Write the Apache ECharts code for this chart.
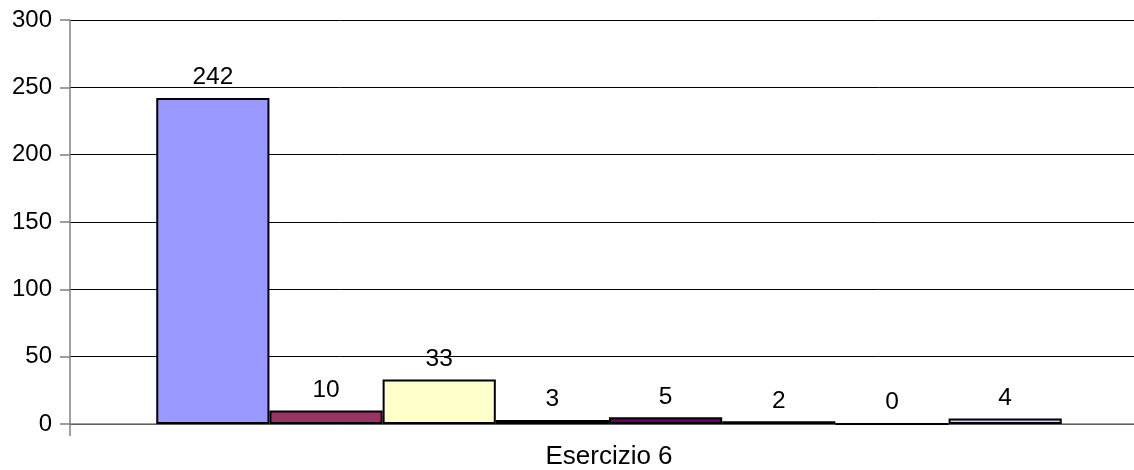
<!DOCTYPE html>
<html><head><meta charset="utf-8">
<script src="https://cdn.jsdelivr.net/npm/echarts@6/dist/echarts.min.js"></script>
<style>html,body{margin:0;padding:0;background:#fff;overflow:hidden;width:1134px;height:470px}#c{width:1148px;height:470px}</style>
</head><body><div id="c"></div>
<script>
var categories = ["Esercizio 6"];
var seriesNames = ["S1","S2","S3","S4","S5","S6","S7","S8"];
var seriesValues = [242, 10, 33, 3, 5, 2, 0, 4];
var seriesColors = ["#9999FF","#993366","#FFFFCC","#CCFFFF","#660066","#FF8080","#0066CC","#CCCCFF"];
var yTicks = [0, 50, 100, 150, 200, 250, 300];

var chart = echarts.init(document.getElementById('c'));
var series = seriesValues.map(function(v, i){
  return {
    name: seriesNames[i], type: 'bar', data: [v],
    barGap: '0%', barCategoryGap: '16%',
    itemStyle: {color: seriesColors[i], borderColor: '#000', borderWidth: 2},
    label: {show: true, position: 'top', distance: 8, color: '#000',
      fontFamily: 'Liberation Sans, Arial', fontSize: 24.5},
    animation: false
  };
});
chart.setOption({
  animation: false,
  grid: {left: 70, right: 0, top: 20, bottom: 46, containLabel: false},
  xAxis: {
    type: 'category', data: categories,
    axisLine: {lineStyle: {color: '#808080', width: 1.5}},
    axisTick: {show: true, length: 12, lineStyle: {color: '#808080', width: 1.5}},
    axisLabel: {color: '#000', fontFamily: 'Liberation Sans, Arial', fontSize: 26, margin: 20}
  },
  yAxis: {
    type: 'value', min: yTicks[0], max: yTicks[yTicks.length-1], interval: 50,
    axisLine: {show: true, lineStyle: {color: '#808080', width: 1.5}},
    axisTick: {show: true, length: 10, lineStyle: {color: '#808080', width: 1.5}},
    axisLabel: {color: '#000', fontFamily: 'Liberation Sans, Arial', fontSize: 24, margin: 18},
    splitLine: {show: true, lineStyle: {color: '#000', width: 1}}
  },
  series: series
});
</script></body></html>
